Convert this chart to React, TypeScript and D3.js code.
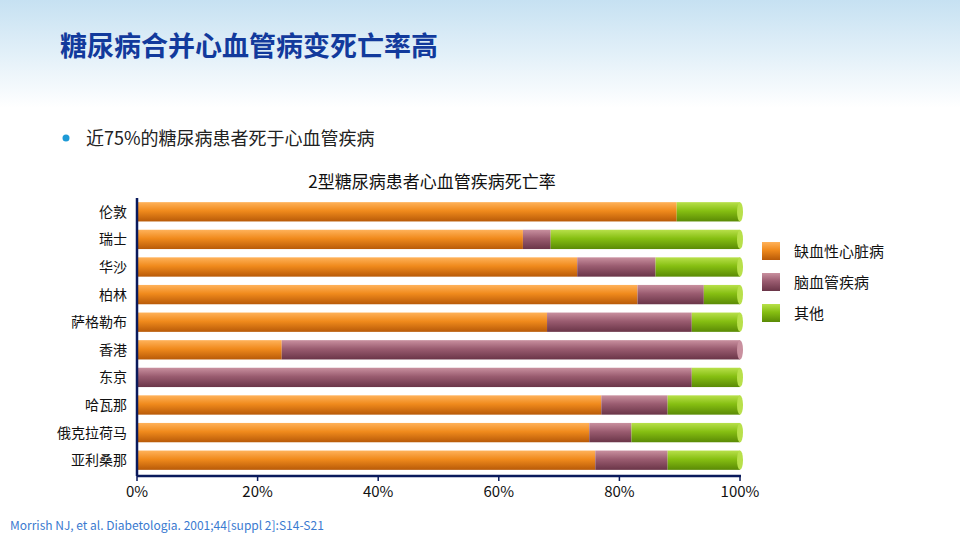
import * as d3 from "d3"

const cities = ["伦敦", "瑞士", "华沙", "柏林", "萨格勒布", "香港", "东京", "哈瓦那", "俄克拉荷马", "亚利桑那"]
const ischemic = [89.5, 64, 73, 83, 68, 24, 0, 77, 75, 76]
const cerebro = [0, 4.6, 13, 11, 24, 76, 92, 11, 7, 12]
const other = [10.5, 31.4, 14, 6, 8, 0, 8, 12, 18, 12]
const seriesNames = ["缺血性心脏病", "脑血管疾病", "其他"]
const xTicks = [0, 20, 40, 60, 80, 100]

const colors = [
  { light: "#ffb25a", mid: "#f08a1c", dark: "#b85a08" },
  { light: "#c9909f", mid: "#9a5c70", dark: "#6a3548" },
  { light: "#b8e04a", mid: "#86bf12", dark: "#5a8a05" },
]
const font = "'Noto Sans CJK SC', 'Noto Sans', sans-serif"

export default function App() {
  const W = 960, H = 540
  const x = d3.scaleLinear().domain([0, 100]).range([137, 740])
  const y = d3.scaleBand().domain(cities).range([198, 474]).paddingInner(0.3).paddingOuter(0.15)
  const series = [ischemic, cerebro, other]
  const bh = y.bandwidth()

  return (
    <svg width={W} height={H} style={{ display: "block", position: "fixed", left: 0, top: 0 }} fontFamily={font}>
      <defs>
        <linearGradient id="bg" x1="0" y1="0" x2="0" y2="1">
          <stop offset="0" stopColor="#c6e1f2" />
          <stop offset="0.2" stopColor="#ffffff" />
        </linearGradient>
        {colors.map((c, i) => (
          <linearGradient key={i} id={"g" + i} x1="0" y1="0" x2="0" y2="1">
            <stop offset="0" stopColor={c.light} />
            <stop offset="0.45" stopColor={c.mid} />
            <stop offset="1" stopColor={c.dark} />
          </linearGradient>
        ))}
      </defs>
      <rect width={W} height={H} fill="url(#bg)" />
      <text x={60} y={56} fontSize={27} fontWeight="bold" fill="#123a9c">糖尿病合并心血管病变死亡率高</text>
      <circle cx={66} cy={138} r={3.5} fill="#1e9ad6" />
      <text x={86} y={145} fontSize={18} fill="#222">近75%的糖尿病患者死于心血管疾病</text>
      <text x={432} y={188} fontSize={17} textAnchor="middle" fill="#111">2型糖尿病患者心血管疾病死亡率</text>

      {cities.map((c, ri) => {
        let acc = 0
        return (
          <g key={c}>
            {series.map((s, si) => {
              const v = s[ri]
              const x0 = x(acc)
              acc += v
              if (v <= 0) return null
              return <rect key={si} x={x0} y={y(c)} width={x(acc) - x0} height={bh} fill={`url(#g${si})`} />
            })}
            <ellipse cx={x(100)} cy={y(c)! + bh / 2} rx={3} ry={bh / 2} fill={colors[series[2][ri] > 0 ? 2 : 1].light} />
            <text x={127} y={y(c)! + bh / 2 + 5} fontSize={14} textAnchor="end" fill="#111">{c}</text>
          </g>
        )
      })}

      <line x1={137} x2={137} y1={198} y2={476} stroke="#0a1a5c" strokeWidth={2.5} />
      <line x1={137} x2={741} y1={476} y2={476} stroke="#0a1a5c" strokeWidth={2.5} />
      {xTicks.map((t) => (
        <g key={t}>
          <line x1={x(t)} x2={x(t)} y1={476} y2={481} stroke="#0a1a5c" strokeWidth={1.5} />
          <text x={x(t)} y={497} fontSize={15} textAnchor="middle" fill="#111">{t}%</text>
        </g>
      ))}

      {seriesNames.map((n, i) => (
        <g key={n}>
          <rect x={762} y={242 + i * 31} width={18} height={18} fill={`url(#g${i})`} />
          <text x={794} y={257 + i * 31} fontSize={15} fill="#111">{n}</text>
        </g>
      ))}

      <text x={10} y={530} fontSize={12} fill="#3a7ad0">Morrish NJ, et al. Diabetologia. 2001;44[suppl 2]:S14-S21</text>
    </svg>
  )
}
